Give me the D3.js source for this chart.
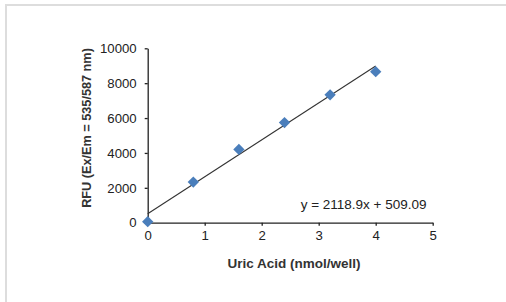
<!DOCTYPE html>
<meta charset="utf-8">
<html lang="en">
  <head>
    <style>
      body { margin: 0; background-color: #fff; }
      .tick text { font: 13.2px Arial, "Liberation Sans", sans-serif; fill: #222; }
      .axis path, .axis line { stroke: #222; stroke-width: 1.3px; }
      .title { font: bold 13.5px Arial, "Liberation Sans", sans-serif; fill: #333; }
      .ytitle { font: bold 12.7px Arial, "Liberation Sans", sans-serif; fill: #333; }
      .eq { font: 13.5px Arial, "Liberation Sans", sans-serif; fill: #222; }
    </style>
  </head>
  <body>
    <script src="https://cdn.jsdelivr.net/npm/d3@7"></script>
    <script>

      // uric acid standard curve
      var amounts = [0, 0.8, 1.6, 2.4, 3.2, 4.0];
      var rfu = [60, 2330, 4200, 5740, 7330, 8660];
      var xTicks = [0, 1, 2, 3, 4, 5];
      var yTicks = [0, 2000, 4000, 6000, 8000, 10000];
      var slope = 2118.9, intercept = 509.09;

      var width = 506, height = 302;

      var svg = d3.select("body").append("svg")
        .attr("width", width)
        .attr("height", height);

      // light frame (top and left edges)
      svg.append("path")
        .attr("d", "M6,302V5H506")
        .attr("fill", "none")
        .attr("stroke", "#ddd")
        .attr("stroke-width", 2);

      var x = d3.scaleLinear().domain([0, 5]).range([147.7, 432.7]);
      var y = d3.scaleLinear().domain([0, 10000]).range([222.7, 48.3]);

      svg.append("g")
        .attr("class", "axis")
        .attr("transform", "translate(0," + y(0) + ")")
        .call(d3.axisBottom(x).tickValues(xTicks).tickFormat(d3.format("d"))
          .tickSize(3).tickPadding(5).tickSizeOuter(0));

      svg.append("g")
        .attr("class", "axis")
        .attr("transform", "translate(" + x(0) + ",0)")
        .call(d3.axisLeft(y).tickValues(yTicks).tickFormat(d3.format("d"))
          .tickSize(3).tickPadding(8).tickSizeOuter(0));

      // trendline
      svg.append("line")
        .attr("x1", x(0)).attr("y1", y(intercept))
        .attr("x2", x(4)).attr("y2", y(slope * 4 + intercept))
        .attr("stroke", "#333")
        .attr("stroke-width", 1.1);

      var pts = amounts.map(function(a, i) { return { x: a, y: rfu[i] }; });

      svg.append("g").selectAll("path")
        .data(pts)
        .enter()
        .append("path")
        .attr("d", d3.symbol().type(d3.symbolSquare).size(64))
        .attr("transform", function(d) { return "translate(" + x(d.x) + "," + y(d.y) + ") rotate(45)"; })
        .attr("fill", "#4a7ebb");

      svg.append("text")
        .attr("class", "eq")
        .attr("x", 426.5)
        .attr("y", 209)
        .attr("text-anchor", "end")
        .text("y = 2118.9x + 509.09");

      svg.append("text")
        .attr("class", "title")
        .attr("x", 294)
        .attr("y", 268)
        .attr("text-anchor", "middle")
        .text("Uric Acid (nmol/well)");

      svg.append("text")
        .attr("class", "ytitle")
        .attr("transform", "translate(90.5,128) rotate(-90)")
        .attr("text-anchor", "middle")
        .text("RFU (Ex/Em = 535/587 nm)");

    </script>
  </body>
</html>
